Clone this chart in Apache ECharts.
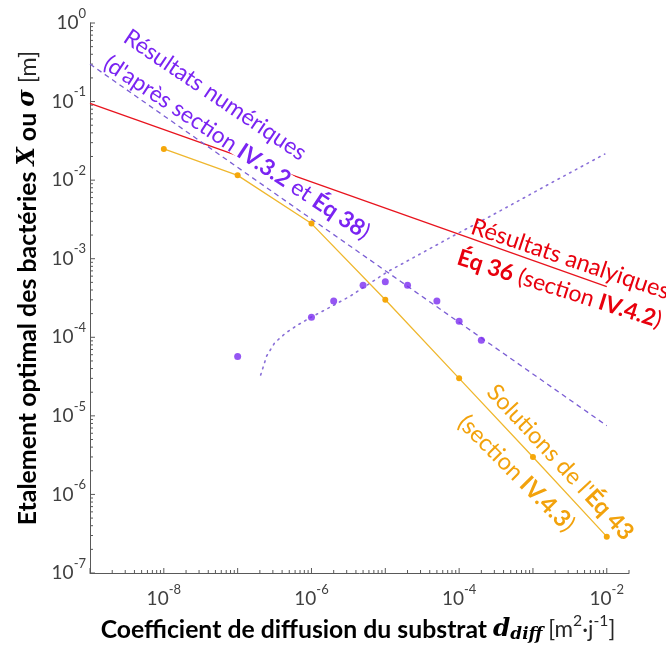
<!DOCTYPE html>
<html><head><meta charset="utf-8">
<script src="https://cdn.jsdelivr.net/npm/echarts@6/dist/echarts.min.js"></script>
<style>html,body{margin:0;padding:0;background:#fff;}#c{width:666px;height:648px;}</style>
</head><body><div id="c"></div>
<script>
// ---- data ----
const xDecades = [1e-9,1e-8,1e-7,1e-6,1e-5,1e-4,1e-3,1e-2];
const yDecades = [1e-7,1e-6,1e-5,1e-4,1e-3,1e-2,1e-1,1];
// Solutions de l'Éq 43 (orange)
const solX = [1e-8,1e-7,1e-6,1e-5,1e-4,1e-3,1e-2];
const solY = [0.025,0.0115,0.0028,3.0e-4,3.0e-5,3.0e-6,2.9e-7];
// Résultats numériques (purple dots)
const numX = [1e-7,1e-6,2e-6,5e-6,1e-5,2e-5,5e-5,1e-4,2e-4];
const numY = [5.7e-5,1.8e-4,2.9e-4,4.6e-4,5.1e-4,4.6e-4,2.9e-4,1.6e-4,9.2e-5];
// Éq 38 fit (purple dashed)
const fitX = [1e-9,1e-2];
const fitY = [0.30,7.5e-6];
// Éq 36 analytic (red)
const anaX = [1e-9,1e-2];
const anaY = [0.095,4.4e-4];
// purple dotted curve
const dotX = [2.05e-7,2.47e-7,3.16e-7,4.45e-7,6.48e-7,1.0e-6,1.81e-6,3.37e-6,6.27e-6,1.06e-5,2.97e-5,8.3e-5,2.39e-4,6.67e-4,1.86e-3,9.4e-3];
const dotY = [3.31e-5,5.78e-5,8.46e-5,1.13e-4,1.43e-4,1.81e-4,2.43e-4,3.35e-4,4.91e-4,6.78e-4,1.15e-3,1.95e-3,3.30e-3,5.58e-3,9.47e-3,2.15e-2];
const minorMult = [2,3,4,5,6,7,8,9];

const zip = (a,b)=>a.map((v,i)=>[v,b[i]]);
const X_MIN=1e-9, X_MAX=2e-2, Y_MIN=1e-7, Y_MAX=1;

// tick marks (inside) drawn through the axes
const tickData = [];
xDecades.forEach(d=>{
  tickData.push([d, Y_MIN, 5, 0]);
  minorMult.forEach(m=>{ const v=d*m; if(v<=X_MAX*1.0001) tickData.push([v, Y_MIN, 3, 0]); });
});
yDecades.forEach(d=>{
  tickData.push([X_MIN, d, 5, 1]);
  if(d<1) minorMult.forEach(m=>tickData.push([X_MIN, d*m, 3, 1]));
});

const labFont = 'Lato';
const tickRich = {
  b:{fontFamily:labFont,fontSize:19,color:'#404040',verticalAlign:'middle'},
  s:{fontFamily:labFont,fontSize:13,color:'#404040',verticalAlign:'middle',padding:[0,0,19,0]}
};
function expLabel(v, evenOnly){
  const e=Math.log10(v), r=Math.round(e);
  if(Math.abs(e-r)>1e-6) return '';
  if(evenOnly && r%2!==0) return '';
  return '{b|10}{s|'+r+'}';
}

// ---- text fitting helpers (scale rich text so that it spans a given length) ----
const mctx = document.createElement('canvas').getContext('2d');
function fontStr(s,k){ return (s.fontStyle||'normal')+' '+(s.fontWeight||'normal')+' '+(s.fontSize*k)+'px '+s.fontFamily; }
function measure(segs, styles, k){
  let w=0; segs.forEach(([t,n])=>{ mctx.font=fontStr(styles[n],k); w+=mctx.measureText(t).width; }); return w;
}
function fitRich(segs, styles, target, color){
  const k = target/measure(segs, styles, 1);
  const rich={};
  Object.keys(styles).forEach(n=>{
    const s=Object.assign({},styles[n]);
    s.fontSize=s.fontSize*k;
    if(s.padding) s.padding=s.padding.map(p=>p*k);
    if(s.lineHeight) s.lineHeight=s.lineHeight*k;
    if(!s.fill) s.fill = s.color || color;
    if(!s.color) s.color = s.fill;
    s.verticalAlign = s.verticalAlign||'middle';
    rich[n]=s;
  });
  return {text: segs.map(([t,n])=>'{'+n+'|'+t+'}').join(''), rich};
}
function textEl(x,y,deg,segs,styles,target,color,align,bg){
  const r=fitRich(segs,styles,target,color);
  return {type:'text', x, y, rotation:deg*Math.PI/180, z:100, silent:true,
    style:{text:r.text, rich:r.rich, fill:color, align:align||'left', verticalAlign:'middle',
           backgroundColor:bg||'transparent'}};
}

const chart = echarts.init(document.getElementById('c'), null, {renderer:'canvas'});
const axisColor = '#595959';
const option = {
  animation:false,
  backgroundColor:'#fff',
  grid:{left:90,right:37,top:23,bottom:75,containLabel:false,outerBoundsMode:'none'},
  xAxis:{
    type:'log', logBase:10, min:X_MIN, max:X_MAX, interval:1,
    axisLine:{show:true,onZero:false,lineStyle:{color:axisColor,width:1}},
    axisTick:{show:false}, splitLine:{show:false},
    axisLabel:{formatter:v=>expLabel(v,true), margin:10, rich:tickRich, showMinLabel:true, showMaxLabel:true, hideOverlap:false}
  },
  yAxis:{
    type:'log', logBase:10, min:Y_MIN, max:Y_MAX, interval:1,
    axisLine:{show:true,onZero:false,lineStyle:{color:axisColor,width:1}},
    axisTick:{show:false}, splitLine:{show:false},
    axisLabel:{formatter:v=>expLabel(v,false), margin:4, rich:tickRich, showMinLabel:true, showMaxLabel:true}
  },
  series:[
    {type:'custom', silent:true, clip:false, data:tickData, encode:{x:0,y:1}, z:1,
     renderItem:(params,api)=>{
       const p=api.coord([api.value(0),api.value(1)]);
       const len=api.value(2), dir=api.value(3);
       const shape = dir===0 ? {x1:p[0],y1:p[1],x2:p[0],y2:p[1]-len} : {x1:p[0],y1:p[1],x2:p[0]+len,y2:p[1]};
       return {type:'line', shape, style:{stroke:axisColor,lineWidth:1}};
     }},
    {name:'Éq 36', type:'line', data:zip(anaX,anaY), showSymbol:false, symbol:'none',
     lineStyle:{color:'#E8141E',width:1.3}, z:2},
    {name:'Éq 38', type:'line', data:zip(fitX,fitY), showSymbol:false, symbol:'none',
     lineStyle:{color:'#7B5ED4',width:1.3,type:[5,4]}, z:2},
    {name:'dotted', type:'line', data:zip(dotX,dotY), showSymbol:false, symbol:'none', smooth:false,
     lineStyle:{color:'#8A70D8',width:1.6,type:[1.6,5],cap:'round'}, z:2},
    {name:'Éq 43', type:'line', data:zip(solX,solY), symbol:'circle', symbolSize:6, showSymbol:true,
     lineStyle:{color:'#EFB72E',width:1.3}, itemStyle:{color:'#F5A70A'}, z:3},
    {name:'numérique', type:'scatter', data:zip(numX,numY), symbol:'circle', symbolSize:7,
     itemStyle:{color:'#7B2CF0'}, z:4}
  ]
};
chart.setOption(option);

// ---- axis titles and annotations ----
const yTitleStyles = {
  b:{fontFamily:labFont,fontWeight:'bold',fontSize:20,color:'#000'},
  m:{fontFamily:'DejaVu Serif',fontStyle:'italic',fontWeight:'bold',fontSize:19,color:'#000'},
  n:{fontFamily:labFont,fontSize:19,color:'#262626'}
};
const yTitle = [['Etalement optimal des bactéries ','b'],['X','m'],[' ou ','b'],['σ','m'],[' [m]','n']];
const xTitleStyles = {
  b:{fontFamily:labFont,fontWeight:'bold',fontSize:22,color:'#000'},
  d:{fontFamily:'DejaVu Serif',fontStyle:'italic',fontWeight:'bold',fontSize:22,color:'#000'},
  sub:{fontFamily:'DejaVu Serif',fontStyle:'italic',fontWeight:'bold',fontSize:15,color:'#000',padding:[9,0,0,0]},
  n:{fontFamily:labFont,fontSize:20,color:'#262626'},
  sup:{fontFamily:labFont,fontSize:14,color:'#262626',padding:[0,0,16,0]}
};
const xTitle = [['Coefficient de diffusion du substrat ','b'],['d','d'],['diff','sub'],[' [m','n'],['2','sup'],['·j','n'],['-1','sup'],[']','n']];

function annStyles(color,lh){
  return {n:{fontFamily:labFont,fontSize:22,fill:color,lineHeight:lh||22},
          b:{fontFamily:labFont,fontWeight:'bold',fontSize:22,fill:color,lineHeight:lh||22}};
}
const PUR='#7A24F2', RED='#E8000D', ORA='#F2A20C';
chart.setOption({graphic:[
  textEl(28,288,90,yTitle,yTitleStyles,475,'#000','center'),
  textEl(358,630,0,xTitle,xTitleStyles,515,'#000','center'),
  textEl(126,35,-34,[['Résultats numériques','n']],annStyles(PUR),215,PUR),
  textEl(106,61,-33.5,[["(d'après section ",'n'],['IV.3.2','b'],[' et ','n'],['Éq 38','b'],[')','n']],annStyles(PUR,15),314,PUR,'left','#fff'),
  textEl(472,226,-18.6,[['Résultats analyiques','n']],annStyles(RED),208,RED),
  textEl(458,257,-17.5,[['Éq 36','b'],[' (section ','n'],['IV.4.2','b'],[')','n']],annStyles(RED),213,RED),
  textEl(491,388,-47,[["Solutions de l'",'n'],['Éq 43','b']],annStyles(ORA),203,ORA),
  textEl(462,419,-45,[['(section ','n'],['IV.4.3','b'],[')','n']],annStyles(ORA),154,ORA)
]});
</script></body></html>
